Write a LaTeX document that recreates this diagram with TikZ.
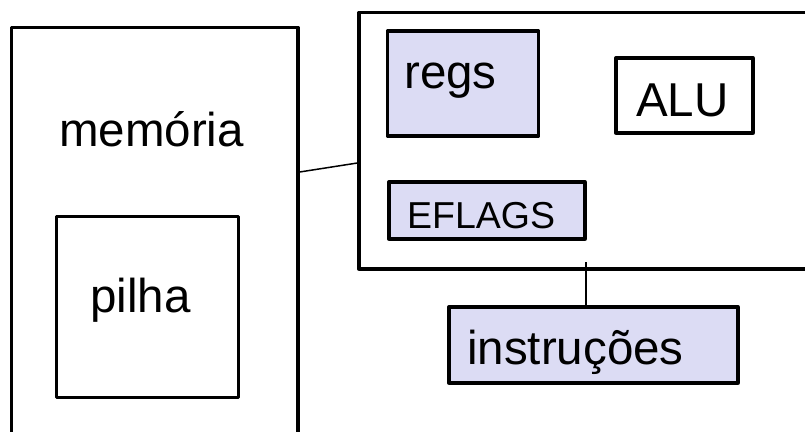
\documentclass[tikz,border=0pt]{standalone}
\usepackage{fontspec}
\setmainfont{Liberation Sans}
\definecolor{boxfill}{RGB}{220,220,244}
\begin{document}
\begin{tikzpicture}[x=1pt,y=-1pt,
  box/.style={draw=black,line width=3.3pt,rectangle,inner sep=0pt,line join=round},
  filled/.style={box,fill=boxfill},
  lbl/.style={anchor=base west,inner sep=0pt,font=\fontsize{47.5}{52}\selectfont},
  small/.style={anchor=base west,inner sep=0pt,font=\fontsize{37.5}{41}\selectfont},
  conn/.style={draw=black,line width=1.5pt}]
\useasboundingbox (0,0) rectangle (805,431);
\clip (0,0) rectangle (805,431);
% boxes
\node[box,minimum width=286.5pt,minimum height=412.5pt] (mem) at ({(11.5+298)/2},{(27.5+440)/2}) {};
\node[box,minimum width=182pt,minimum height=181pt] (pilha) at ({(56.5+238.5)/2},{(216.5+397.5)/2}) {};
\node[box,minimum width=461pt,minimum height=256.5pt] (cpu) at ({(359+820)/2},{(12.5+269)/2}) {};
\node[filled,minimum width=151pt,minimum height=105pt] (regs) at ({(387.5+538.5)/2},{(31+136)/2}) {};
\node[box,minimum width=137pt,minimum height=75pt] (alu) at ({(616+753)/2},{(58+133)/2}) {};
\node[filled,minimum width=196pt,minimum height=57pt] (eflags) at ({(389+585)/2},{(182+239)/2}) {};
\node[filled,minimum width=289pt,minimum height=76pt] (instr) at ({(449+738)/2},{(307+383)/2}) {};
% texts
\node[lbl] (tmem) at (59,146) {memória};
\node[lbl] (tpilha) at (90,312) {pilha};
\node[lbl] (tregs) at (404,88) {regs};
\node[lbl] (talu) at (636,116) {ALU};
\node[small] (teflags) at (407,228) {EFLAGS};
\node[lbl] (tinstr) at (467,364) {instruções};
% connectors
\coordinate (y1) at (0,172);
\coordinate (y2) at (0,163);
\coordinate (xv) at (586,262);
\draw[conn] (mem.east |- y1) -- (cpu.west |- y2);
\draw[conn] (xv) -- (xv |- instr.north);
\end{tikzpicture}
\end{document}
